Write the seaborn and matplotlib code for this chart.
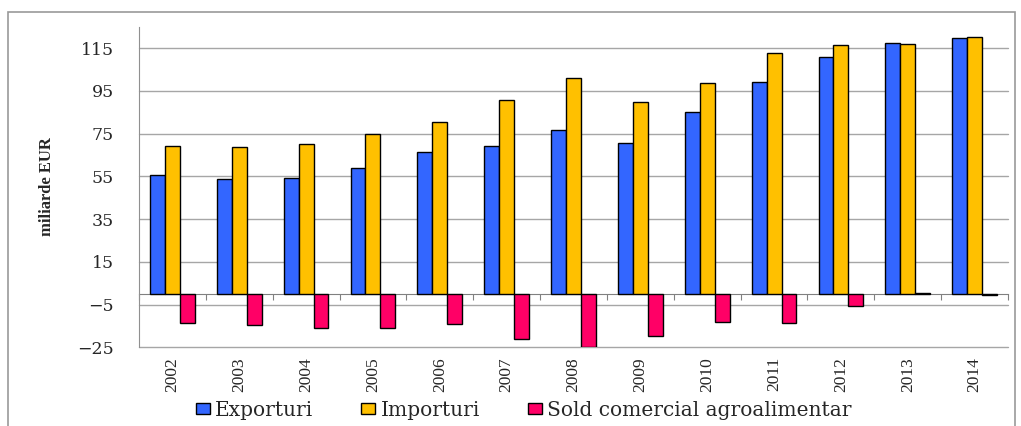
import numpy as np
import pandas as pd
import matplotlib.pyplot as plt
import matplotlib.patches as mpatches
import seaborn as sns

years = [str(y) for y in range(2002, 2015)]
exporturi = [55.7, 53.7, 54.2, 58.7, 66.3, 69.3, 76.6, 70.4, 85.1, 99.3, 111.0, 117.2, 119.9]
importuri = [69.4, 68.5, 70.1, 74.6, 80.4, 90.5, 101.1, 89.7, 98.5, 112.7, 116.4, 117.0, 120.4]
sold = [-13.7, -14.7, -16.1, -15.8, -14.0, -21.2, -24.7, -19.5, -13.3, -13.4, -5.6, 0.2, -0.5]
series = ['Exporturi', 'Importuri', 'Sold comercial agroalimentar']
colors = ['#3366FF', '#FFC000', '#FF0066']
yticks = [-25, -5, 15, 35, 55, 75, 95, 115]

df = pd.DataFrame({'an': years, series[0]: exporturi, series[1]: importuri, series[2]: sold})
df = df.melt(id_vars='an', var_name='serie', value_name='valoare')

sns.set_style('white')
fig = plt.figure(figsize=(10.21, 4.26), dpi=100)
ax = fig.add_axes([0.1361, 0.1847, 0.8512, 0.7526])

sns.barplot(data=df, x='an', y='valoare', hue='serie', hue_order=series,
            palette=colors, saturation=1, width=0.67, gap=0, errorbar=None,
            edgecolor='black', linewidth=1, ax=ax, legend=False)

grid_col = '#a6a6a6'
ax.set_ylim(-25, 125)
ax.set_xlim(-0.5, len(years) - 0.5)
ax.set_yticks(yticks)
ax.yaxis.grid(True, color=grid_col, lw=1)
for gl in ax.get_ygridlines():
    gl.set_clip_on(False)
ax.set_axisbelow(True)
for s in ['top', 'right', 'bottom']:
    ax.spines[s].set_visible(False)
ax.spines['left'].set_color('#909090')
ax.tick_params(axis='x', length=0, pad=7, labelrotation=90,
               labelsize=12.5, labelfontfamily='Liberation Serif')
ax.tick_params(axis='y', length=6, color='#909090', direction='out', pad=12,
               labelsize=12.5, labelfontfamily='DejaVu Serif')
ax.set_xlabel('')
ax.set_ylabel('miliarde EUR', family='Liberation Serif', fontweight='bold', fontsize=12)
ax.yaxis.set_label_coords(-0.097, 0.5)

# zero line with category separators
sec = ax.secondary_xaxis(0, transform=ax.transData)
sec.set_xticks(np.arange(-0.5, len(years), 1.0))
sec.set_xticklabels([])
sec.tick_params(direction='out', length=4, color='#808080')
sec.spines['bottom'].set_color('#808080')

handles = [mpatches.Patch(facecolor=c, edgecolor='black', lw=1, label=s) for c, s in zip(colors, series)]
fig.legend(handles=handles, loc='center', bbox_to_anchor=(0.513, 1 - 410 / 426), ncol=3,
           frameon=False, handlelength=0.7, handleheight=0.5, handletextpad=0.25,
           columnspacing=2.4, prop={'family': 'DejaVu Serif', 'size': 14.5})

fig.patches.append(mpatches.Rectangle((8 / 1021, -0.05), (1015 - 8) / 1021, (426 - 12) / 426 + 0.05,
                                      transform=fig.transFigure, fill=False,
                                      edgecolor='#999999', lw=1.2))

fig.savefig('out.png', dpi=100)
